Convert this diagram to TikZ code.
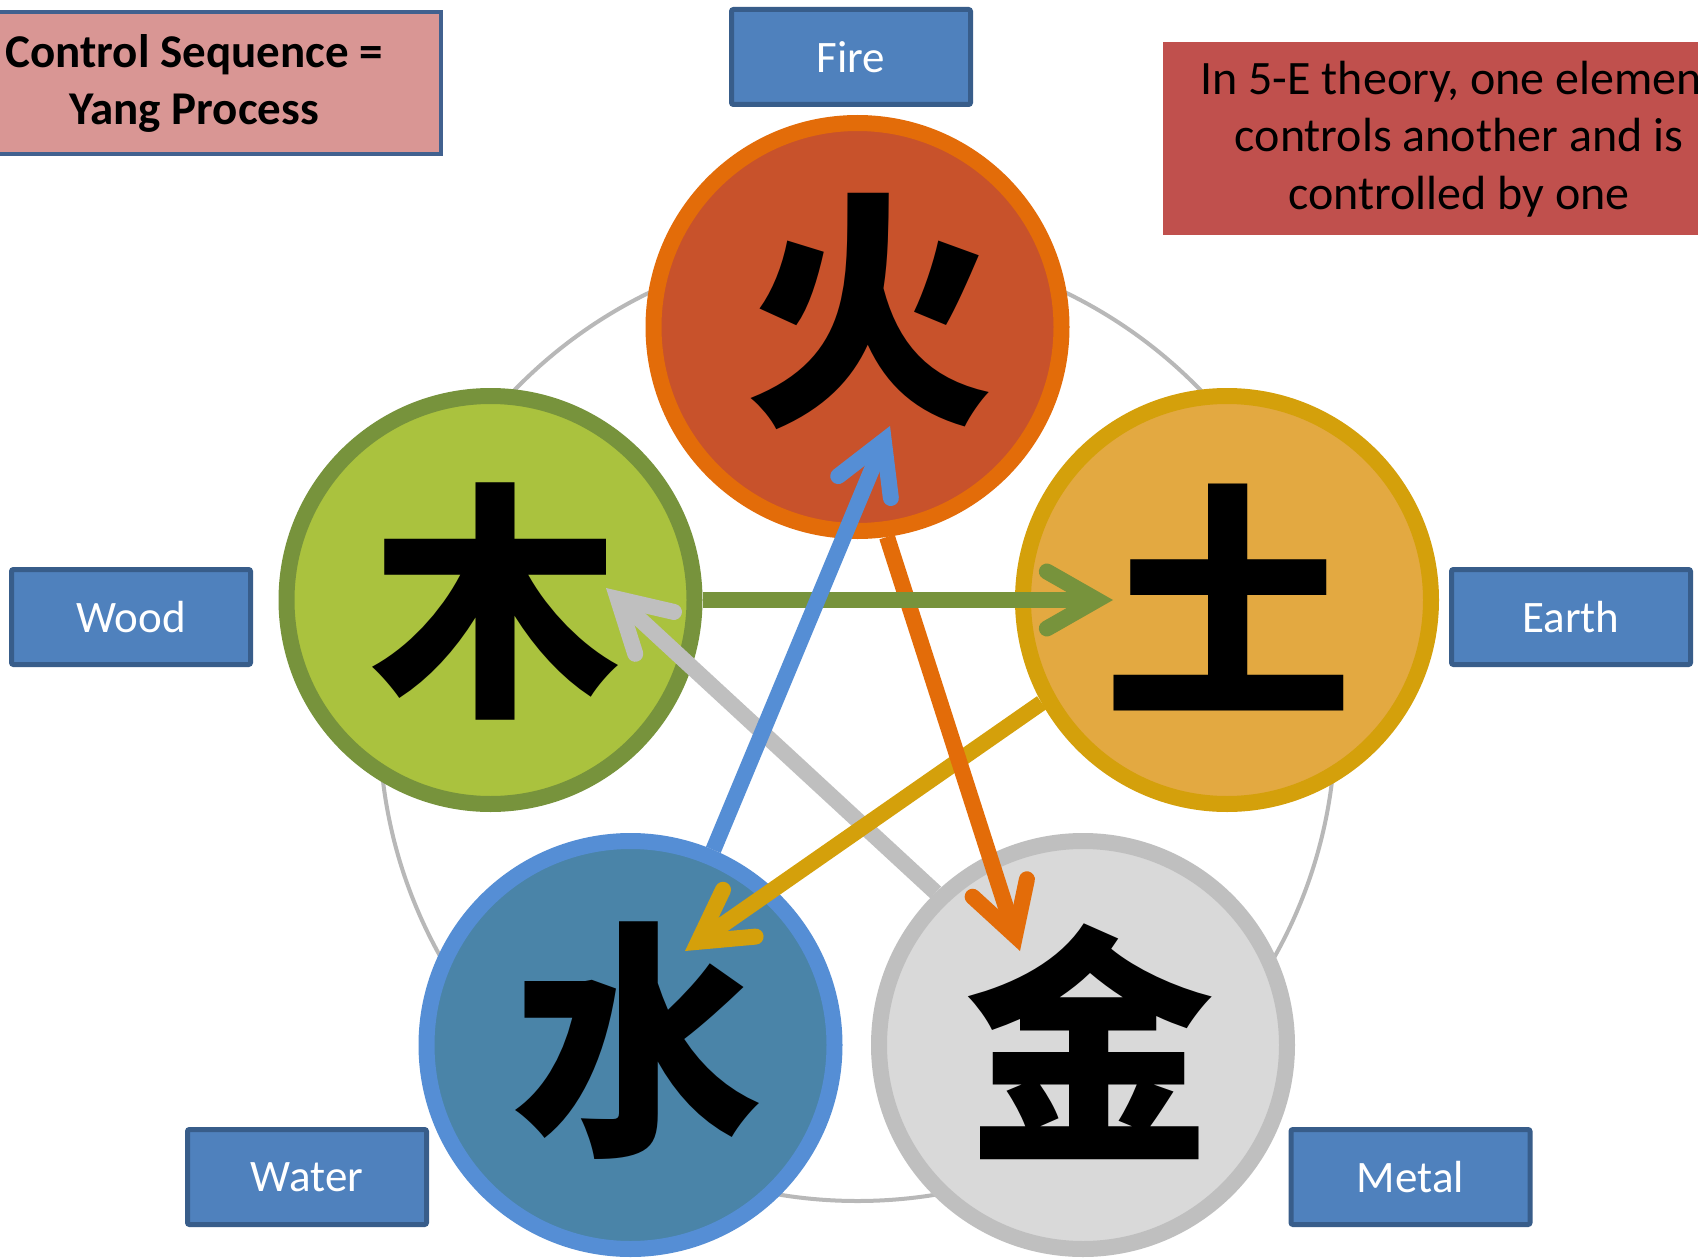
\documentclass[tikz,border=0pt]{standalone}
\usepackage{fontspec}
\setmainfont{Carlito}
\newfontfamily\cjk{Noto Sans CJK SC}
\usetikzlibrary{arrows.meta,calc}
\definecolor{boxblue}{HTML}{4F81BD}
\definecolor{boxborder}{HTML}{385D8A}
\definecolor{ctlfill}{HTML}{D99694}
\definecolor{ctlborder}{HTML}{41618F}
\definecolor{redbox}{HTML}{C0504D}
\definecolor{pentgrey}{HTML}{B8B8B8}
\definecolor{firefill}{HTML}{C8522B}
\definecolor{firering}{HTML}{E36C09}
\definecolor{woodfill}{HTML}{AAC23E}
\definecolor{woodring}{HTML}{77933C}
\definecolor{earthfill}{HTML}{E3A941}
\definecolor{earthring}{HTML}{D4A00B}
\definecolor{waterfill}{HTML}{4A84A8}
\definecolor{waterring}{HTML}{558ED5}
\definecolor{metalfill}{HTML}{D9D9D9}
\definecolor{metalring}{HTML}{BFBFBF}
\begin{document}
\begin{tikzpicture}[x=1pt,y=-1pt,
  lbl/.style={draw=boxborder, fill=boxblue, line width=5pt, rounded corners=2pt,
    minimum width=239pt, minimum height=95pt, inner sep=0pt, text=white,
    font=\fontsize{45}{54}\selectfont},
  elem/.style={circle, line width=16pt, minimum size=408pt, inner sep=0pt},
  hanzi/.style={inner sep=0pt, text=black, font=\cjk\bfseries\fontsize{250}{250}\selectfont},
  arr/.style={line width=16pt, -{Straight Barb[length=50pt, width=57pt, line width=16pt, line cap=round, line join=miter]}}
]
\useasboundingbox (0,0) rectangle (1698,1260);
\fill[white] (0,0) rectangle (1698,1260);

% big background ring
\node[circle, draw=pentgrey, line width=4pt, minimum size=956pt, inner sep=0pt] (ring) at (857.5,723) {};

% element circles
\node[elem, draw=firering, fill=firefill] (fire) at (857.5,327) {};
\node[elem, draw=woodring, fill=woodfill] (wood) at (490.5,600) {};
\node[elem, draw=earthring, fill=earthfill] (earth) at (1227,600) {};
\node[elem, draw=waterring, fill=waterfill] (water) at (630.5,1045) {};
\node[elem, draw=metalring, fill=metalfill] (metal) at (1083,1045) {};

% characters
\node[hanzi] (cfire) at (869,311) {火};
\node[hanzi] (cwood) at (495,601) {木};
\node[hanzi] (cearth) at (1228,597) {土};
\node[hanzi] (cwater) at (637,1041) {水};
\node[hanzi] (cmetal) at (1089,1042) {金};

% arrow tips
\coordinate (gtip) at (1113,600);
\coordinate (btip) at (890,426);
\coordinate (otip) at (1020,951);
\coordinate (ytip) at (685,951);
\coordinate (stip) at (606,588);

\draw[arr, draw=metalring] (metal.134) -- (stip);
\draw[arr, draw=earthring] (earth.209) -- (ytip);
\draw[arr, draw=firering] (fire.-82) -- (otip);
\draw[arr, draw=woodring] (wood.0) -- (gtip);
\draw[arr, draw=waterring] (water.67) -- (btip);

% labels
\node[lbl] (firelbl) at (851,57) {Fire};
\node[lbl] (woodlbl) at (131,617) {Wood};
\node[lbl] (earthlbl) at (1571,617) {Earth};
\node[lbl] (waterlbl) at (307,1177) {Water};
\node[lbl] (metallbl) at (1410.5,1177) {Metal};

% text boxes
\node[draw=ctlborder, fill=ctlfill, line width=4pt, minimum width=494pt, minimum height=142pt,
  inner sep=0pt, align=center, font=\bfseries\fontsize{47}{57}\selectfont] (ctl) at (194,83)
  {Control Sequence =\\Yang Process};
\node[fill=redbox, minimum width=592pt, minimum height=193pt, inner sep=0pt, align=center,
  font=\fontsize{48}{57.5}\selectfont] (note) at (1459,139)
  {In 5-E theory, one element\\controls another and is\\controlled by one};
\end{tikzpicture}
\end{document}
